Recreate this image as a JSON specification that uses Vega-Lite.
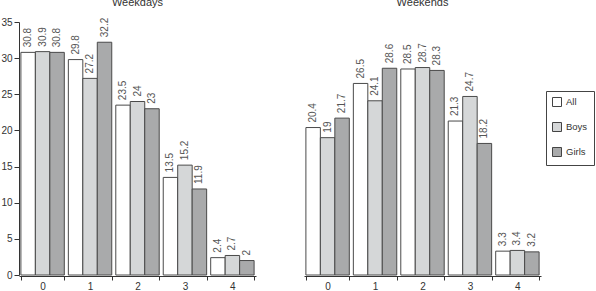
{
  "$schema": "https://vega.github.io/schema/vega-lite/v6.json",
  "padding": {"left": 0, "top": -3, "right": 0, "bottom": 0},
  "config": {
    "font": "Liberation Sans",
    "view": {"stroke": null},
    "axis": {"labelFont": "Liberation Sans", "labelColor": "#333", "domainColor": "#333", "tickColor": "#333", "grid": false, "title": null, "labelFontSize": 10}
  },
  "data": {"values": [
    {"period": "Weekdays", "level": "0", "group": "All", "value": 30.8},
    {"period": "Weekdays", "level": "0", "group": "Boys", "value": 30.9},
    {"period": "Weekdays", "level": "0", "group": "Girls", "value": 30.8},
    {"period": "Weekdays", "level": "1", "group": "All", "value": 29.8},
    {"period": "Weekdays", "level": "1", "group": "Boys", "value": 27.2},
    {"period": "Weekdays", "level": "1", "group": "Girls", "value": 32.2},
    {"period": "Weekdays", "level": "2", "group": "All", "value": 23.5},
    {"period": "Weekdays", "level": "2", "group": "Boys", "value": 24},
    {"period": "Weekdays", "level": "2", "group": "Girls", "value": 23},
    {"period": "Weekdays", "level": "3", "group": "All", "value": 13.5},
    {"period": "Weekdays", "level": "3", "group": "Boys", "value": 15.2},
    {"period": "Weekdays", "level": "3", "group": "Girls", "value": 11.9},
    {"period": "Weekdays", "level": "4", "group": "All", "value": 2.4},
    {"period": "Weekdays", "level": "4", "group": "Boys", "value": 2.7},
    {"period": "Weekdays", "level": "4", "group": "Girls", "value": 2},
    {"period": "Weekends", "level": "0", "group": "All", "value": 20.4},
    {"period": "Weekends", "level": "0", "group": "Boys", "value": 19},
    {"period": "Weekends", "level": "0", "group": "Girls", "value": 21.7},
    {"period": "Weekends", "level": "1", "group": "All", "value": 26.5},
    {"period": "Weekends", "level": "1", "group": "Boys", "value": 24.1},
    {"period": "Weekends", "level": "1", "group": "Girls", "value": 28.6},
    {"period": "Weekends", "level": "2", "group": "All", "value": 28.5},
    {"period": "Weekends", "level": "2", "group": "Boys", "value": 28.7},
    {"period": "Weekends", "level": "2", "group": "Girls", "value": 28.3},
    {"period": "Weekends", "level": "3", "group": "All", "value": 21.3},
    {"period": "Weekends", "level": "3", "group": "Boys", "value": 24.7},
    {"period": "Weekends", "level": "3", "group": "Girls", "value": 18.2},
    {"period": "Weekends", "level": "4", "group": "All", "value": 3.3},
    {"period": "Weekends", "level": "4", "group": "Boys", "value": 3.4},
    {"period": "Weekends", "level": "4", "group": "Girls", "value": 3.2}
  ]},
  "facet": {
    "column": {
      "field": "period", "type": "nominal", "sort": ["Weekdays", "Weekends"],
      "header": {"title": null, "labelFontSize": 11, "labelColor": "#333", "labelFont": "Liberation Sans", "labelPadding": 9}
    }
  },
  "spacing": 48,
  "spec": {
    "width": 237,
    "height": 253,
    "encoding": {
      "x": {"field": "level", "type": "ordinal", "scale": {"paddingInner": 0.085, "paddingOuter": 0.04},
            "axis": {"labelAngle": 0, "tickBand": "extent", "tickSize": 4, "labelPadding": 1}},
      "xOffset": {"field": "group", "type": "nominal", "sort": ["All", "Boys", "Girls"], "scale": {"paddingInner": 0, "paddingOuter": 0}},
      "y": {"field": "value", "type": "quantitative", "scale": {"domain": [0, 35], "nice": false},
            "axis": {"values": [0, 5, 10, 15, 20, 25, 30, 35], "tickSize": 5, "labelPadding": 2}}
    },
    "layer": [
      {
        "mark": {"type": "bar", "stroke": "#4a4a4a", "strokeWidth": 1},
        "encoding": {
          "fill": {"field": "group", "type": "nominal", "sort": ["All", "Boys", "Girls"],
                   "scale": {"domain": ["All", "Boys", "Girls"], "range": ["#ffffff", "#d5d7d8", "#a9aaab"]},
                   "legend": {"title": null, "orient": "none", "legendX": 527, "legendY": 69, "symbolType": "square", "symbolSize": 81,
                              "symbolStrokeColor": "#444", "symbolStrokeWidth": 1, "strokeColor": "#444", "padding": 6,
                              "rowPadding": 11, "labelFontSize": 9.5, "labelColor": "#333", "labelFont": "Liberation Sans", "labelOffset": 4}}
        }
      },
      {
        "mark": {"type": "text", "angle": 270, "align": "left", "baseline": "middle", "dx": 5, "fontSize": 10, "color": "#555"},
        "encoding": {"text": {"field": "value", "type": "quantitative"}}
      }
    ]
  }
}
